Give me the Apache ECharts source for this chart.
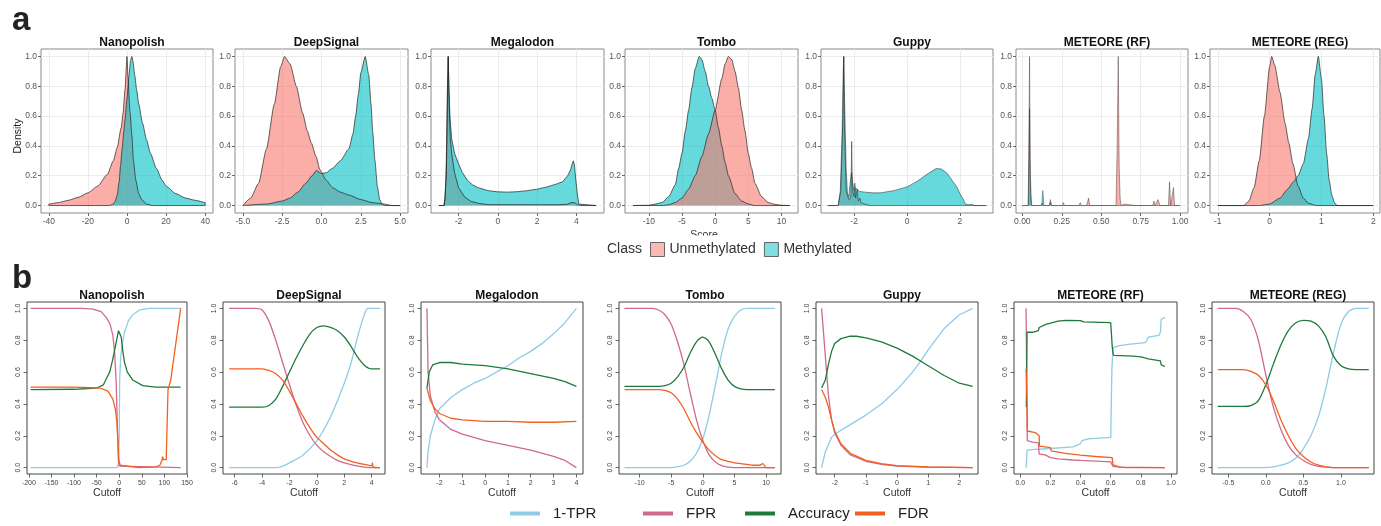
<!DOCTYPE html>
<html>
<head>
<meta charset="utf-8">
<title>Methylation callers: score densities and cutoff curves</title>
<script src="https://cdn.jsdelivr.net/npm/echarts@6/dist/echarts.min.js"></script>
<style>
  html, body { margin: 0; padding: 0; background: #fff; }
  #chart { width: 1381px; height: 526px; }
</style>
</head>
<body>
<div id="chart"></div>
<script>
// ---------- data ----------
var tools = ["Nanopolish", "DeepSignal", "Megalodon", "Tombo", "Guppy", "METEORE (RF)", "METEORE (REG)"];

// panel a: score densities scaled to a max of 1, [score, density]
var nanoUnmeth = [[-40,0],[-40,0.01],[-35,0.02],[-30,0.035],[-25,0.055],[-20,0.085],[-15,0.13],[-10,0.21],[-7,0.3],[-5,0.39],[-3,0.52],[-2,0.62],[-1,0.78],[0,1.0],[0.5,0.86],[1.5,0.63],[2.5,0.47],[3.3,0.3],[4.5,0.17],[6,0.08],[7.5,0.04],[10,0.01],[13,0],[40,0]];
var nanoMeth = [[-40,0],[-9,0],[-7,0.01],[-6,0.03],[-5,0.07],[-4,0.16],[-3.3,0.27],[-2.5,0.38],[-1.7,0.49],[-1,0.58],[0,0.72],[1,0.87],[1.8,0.97],[2.5,1.0],[3,0.97],[4,0.87],[5,0.77],[6,0.68],[8,0.55],[10,0.44],[12,0.35],[15,0.25],[18,0.17],[20,0.13],[25,0.08],[30,0.05],[35,0.035],[40,0.02],[40,0]];
var deepUnmeth = [[-5,0],[-4.5,0.05],[-4,0.15],[-3.5,0.38],[-3,0.68],[-2.6,0.93],[-2.35,1.0],[-2,0.95],[-1.6,0.8],[-1.2,0.62],[-0.9,0.5],[-0.65,0.42],[-0.35,0.33],[-0.1,0.24],[0.3,0.17],[0.7,0.12],[1.2,0.09],[1.75,0.07],[2.5,0.04],[3.2,0.02],[4,0.01],[4.5,0],[5,0]];
var deepMeth = [[-5,0],[-3.5,0.01],[-2.5,0.03],[-2,0.05],[-1.5,0.09],[-1,0.15],[-0.6,0.2],[-0.33,0.235],[0,0.215],[0.3,0.22],[0.7,0.25],[1.2,0.3],[1.74,0.38],[2,0.48],[2.17,0.6],[2.35,0.75],[2.5,0.89],[2.78,1.0],[3,0.88],[3.15,0.68],[3.26,0.49],[3.4,0.3],[3.55,0.13],[3.7,0.04],[3.85,0.01],[4,0],[5,0]];
var megaUnmeth = [[-3,0],[-2.72,0],[-2.62,0.2],[-2.55,0.8],[-2.52,1.0],[-2.48,0.7],[-2.42,0.45],[-2.35,0.35],[-2.2,0.22],[-2,0.12],[-1.7,0.06],[-1.4,0.03],[-1,0.015],[-0.5,0.006],[3,0.005],[3.5,0.008],[3.75,0.02],[3.9,0.02],[4.05,0.005],[4.2,0],[5,0]];
var megaMeth = [[-3,0],[-2.75,0],[-2.68,0.05],[-2.62,0.3],[-2.57,0.75],[-2.53,1.0],[-2.49,0.8],[-2.43,0.58],[-2.35,0.45],[-2.2,0.35],[-2,0.28],[-1.8,0.22],[-1.55,0.17],[-1.3,0.14],[-1,0.12],[-0.5,0.1],[0,0.092],[0.5,0.09],[1,0.093],[1.5,0.1],[2,0.11],[2.5,0.125],[3,0.145],[3.3,0.16],[3.55,0.2],[3.7,0.24],[3.78,0.28],[3.84,0.3],[3.9,0.27],[3.96,0.18],[4.05,0.07],[4.12,0.01],[4.2,0],[5,0]];
var tomboUnmeth = [[-12.4,0],[-8,0],[-7,0.005],[-6,0.02],[-5,0.05],[-4,0.11],[-3,0.2],[-2,0.33],[-1,0.48],[0,0.64],[1,0.85],[1.5,0.95],[2,1.0],[2.5,0.98],[3,0.9],[3.5,0.79],[4,0.64],[4.5,0.5],[5,0.35],[5.5,0.25],[6,0.15],[7,0.06],[8,0.02],[9,0.008],[10,0.002],[11.3,0]];
var tomboMeth = [[-12.4,0],[-10,0.002],[-9,0.01],[-8,0.02],[-7,0.06],[-6,0.14],[-5.5,0.25],[-5,0.35],[-4.5,0.5],[-4,0.64],[-3.5,0.79],[-3,0.92],[-2.4,1.0],[-2,0.98],[-1.5,0.9],[-1,0.8],[-0.5,0.72],[0,0.64],[0.5,0.52],[1,0.4],[1.5,0.29],[2,0.2],[3,0.08],[4,0.03],[5,0.01],[6,0],[11.3,0]];
var guppyUnmeth = [[-3,0],[-2.6,0],[-2.5,0.1],[-2.42,0.6],[-2.39,1.0],[-2.36,0.5],[-2.3,0.1],[-2.2,0.04],[-2.12,0.05],[-2.09,0.43],[-2.06,0.1],[-2.0,0.06],[-1.97,0.15],[-1.94,0.05],[-1.88,0.11],[-1.84,0.03],[-1.78,0.05],[-1.74,0.02],[-1.6,0.01],[-1.4,0],[3,0]];
var guppyMeth = [[-3,0],[-2.6,0],[-2.52,0.1],[-2.45,0.5],[-2.41,0.9],[-2.39,1.0],[-2.36,0.7],[-2.3,0.25],[-2.25,0.08],[-2.2,0.06],[-2.15,0.15],[-2.1,0.22],[-2.05,0.15],[-2.0,0.1],[-1.95,0.12],[-1.9,0.11],[-1.8,0.095],[-1.6,0.09],[-1.3,0.085],[-1,0.085],[-0.5,0.1],[0,0.125],[0.4,0.165],[0.8,0.215],[1.1,0.248],[1.3,0.245],[1.5,0.22],[1.7,0.17],[1.9,0.12],[2.0,0.08],[2.1,0.05],[2.15,0.035],[2.2,0.01],[2.25,0.005],[2.35,0.005],[2.45,0.008],[2.55,0],[3,0]];
var rfUnmeth = [[0,0],[0.038,0],[0.046,1.0],[0.05,0.3],[0.054,0.08],[0.06,0],[0.088,0],[0.094,0.01],[0.1,0],[0.118,0],[0.125,0.015],[0.132,0],[0.171,0],[0.178,0.04],[0.185,0],[0.253,0],[0.26,0.02],[0.267,0],[0.293,0],[0.3,0.01],[0.307,0],[0.36,0],[0.367,0.02],[0.374,0],[0.393,0],[0.4,0.01],[0.407,0],[0.413,0],[0.42,0.05],[0.427,0],[0.594,0],[0.601,0.4],[0.608,1.0],[0.614,0.25],[0.62,0.05],[0.626,0],[0.638,0],[0.645,0.01],[0.652,0],[0.718,0],[0.725,0.01],[0.732,0],[0.827,0],[0.834,0.03],[0.841,0],[0.853,0],[0.86,0.04],[0.866,0.02],[0.872,0],[0.926,0],[0.933,0.16],[0.94,0],[0.951,0],[0.958,0.12],[0.965,0],[1.0,0]];
var rfMeth = [[0,0],[0.037,0],[0.042,0.3],[0.046,0.65],[0.05,0.2],[0.057,0],[0.087,0],[0.094,0.01],[0.101,0],[0.123,0],[0.13,0.1],[0.137,0],[0.171,0],[0.178,0.02],[0.185,0],[1.0,0]];
var regUnmeth = [[-1,0],[-0.5,0],[-0.4,0.03],[-0.3,0.12],[-0.2,0.3],[-0.1,0.6],[0,0.93],[0.04,1.0],[0.1,0.94],[0.2,0.76],[0.3,0.55],[0.37,0.42],[0.45,0.28],[0.55,0.13],[0.65,0.05],[0.75,0.015],[0.9,0],[2,0]];
var regMeth = [[-1,0],[-0.2,0],[0,0.01],[0.2,0.05],[0.35,0.11],[0.45,0.155],[0.55,0.2],[0.65,0.28],[0.75,0.45],[0.82,0.65],[0.88,0.88],[0.94,1.0],[1.0,0.85],[1.05,0.6],[1.1,0.35],[1.15,0.17],[1.2,0.07],[1.25,0.02],[1.3,0],[2,0]];

// panel b: rates against the score cutoff, [cutoff, value]
var nanoTpr = [[-196,0],[-5,0],[-2,0.02],[0,0.2],[1,0.55],[3,0.68],[6,0.76],[11.7,0.85],[20,0.92],[30,0.96],[45,0.99],[66,1.0],[136,1.0]];
var nanoFpr = [[-196,1],[-80,1],[-58,0.995],[-40,0.98],[-28,0.94],[-20,0.9],[-14,0.83],[-10,0.72],[-6.6,0.53],[-4,0.25],[-2,0.06],[0,0.01],[1,0],[136,0]];
var nanoAcc = [[-196,0.49],[-100,0.492],[-50,0.5],[-35,0.52],[-21,0.6],[-15,0.67],[-10,0.74],[-5,0.81],[-1.5,0.86],[1,0.86],[4.4,0.82],[8,0.73],[11.7,0.66],[18,0.6],[30,0.55],[52,0.515],[80,0.505],[136,0.505]];
var nanoFdr = [[-196,0.505],[-100,0.505],[-43,0.5],[-25,0.48],[-14,0.43],[-8,0.36],[-5,0.28],[-2.5,0.15],[-0.7,0.05],[2,0.015],[5,0.005],[44,0],[80,0.005],[90,0.015],[95,0.05],[96,0.07],[97.5,0.05],[99,0.045],[101,0.055],[104,0.05],[106.5,0.06],[107.5,0.06],[108,0.49],[114,0.55],[136,1.0]];
var deepTpr = [[-6.4,0],[-3,0],[-2.5,0.01],[-2,0.03],[-1,0.08],[0,0.17],[1,0.32],[2,0.53],[2.5,0.66],[3,0.83],[3.5,0.97],[3.7,1.0],[4.6,1.0]];
var deepFpr = [[-6.4,1],[-4.5,1],[-4,0.99],[-3.5,0.92],[-3,0.8],[-2.5,0.66],[-2,0.52],[-1.5,0.39],[-1,0.28],[-0.5,0.2],[0,0.14],[0.5,0.1],[1,0.07],[1.5,0.045],[2,0.03],[3,0.01],[4,0],[4.6,0]];
var deepAcc = [[-6.4,0.38],[-4,0.38],[-3.5,0.39],[-3,0.43],[-2.5,0.51],[-2,0.6],[-1.5,0.69],[-1,0.77],[-0.5,0.84],[0,0.88],[0.5,0.89],[1,0.88],[1.5,0.86],[2,0.82],[2.5,0.76],[3,0.69],[3.5,0.64],[4,0.62],[4.6,0.62]];
var deepFdr = [[-6.4,0.62],[-4,0.62],[-3.5,0.61],[-3,0.59],[-2.5,0.55],[-2,0.48],[-1.5,0.4],[-1,0.32],[-0.5,0.25],[0,0.19],[0.5,0.15],[1,0.11],[1.5,0.08],[2,0.055],[2.5,0.04],[3,0.028],[3.5,0.02],[4,0.012],[4.05,0.03],[4.1,0.005],[4.6,0]];
var megaTpr = [[-2.55,0],[-2.5,0.1],[-2.4,0.2],[-2.2,0.3],[-2,0.37],[-1.5,0.44],[-1,0.49],[-0.5,0.53],[0,0.56],[0.5,0.6],[1,0.64],[1.5,0.69],[2,0.73],[2.5,0.78],[3,0.84],[3.5,0.91],[4,1.0]];
var megaFpr = [[-2.55,1.0],[-2.5,0.6],[-2.4,0.45],[-2.2,0.35],[-2,0.3],[-1.5,0.24],[-1,0.21],[0,0.17],[1,0.14],[2,0.11],[3,0.07],[3.5,0.045],[4,0]];
var megaAcc = [[-2.55,0.5],[-2.45,0.6],[-2.3,0.645],[-2,0.66],[-1.5,0.66],[-1,0.65],[0,0.64],[1,0.62],[2,0.59],[3,0.56],[3.5,0.54],[4,0.51]];
var megaFdr = [[-2.55,0.5],[-2.4,0.42],[-2.2,0.37],[-2,0.34],[-1.5,0.31],[-1,0.3],[0,0.29],[1,0.29],[2,0.285],[3,0.285],[4,0.29]];
var tomboTpr = [[-12.4,0],[-5,0],[-4,0.005],[-3,0.015],[-2,0.04],[-1,0.09],[0,0.18],[1,0.33],[2,0.52],[3,0.72],[4,0.87],[5,0.95],[6,0.99],[7,1.0],[11.4,1.0]];
var tomboFpr = [[-12.4,1],[-8,1],[-7,0.99],[-6,0.96],[-5,0.9],[-4,0.79],[-3,0.65],[-2,0.47],[-1,0.3],[0,0.17],[1,0.08],[2,0.035],[3,0.012],[4,0.003],[5,0],[11.4,0]];
var tomboAcc = [[-12.4,0.51],[-7,0.51],[-6,0.515],[-5,0.53],[-4,0.57],[-3,0.63],[-2,0.72],[-1,0.79],[0,0.82],[1,0.79],[2,0.71],[3,0.62],[4,0.55],[5,0.51],[6,0.495],[7,0.49],[11.4,0.49]];
var tomboFdr = [[-12.4,0.49],[-7,0.49],[-6,0.485],[-5,0.47],[-4,0.43],[-3,0.37],[-2,0.29],[-1,0.22],[0,0.16],[1,0.11],[2,0.075],[3,0.05],[4,0.04],[5,0.03],[6,0.025],[7,0.02],[8,0.015],[9,0.015],[9.5,0.025],[9.8,0.01],[10,0],[11.4,0]];
var guppyTpr = [[-2.42,0],[-2.3,0.1],[-2.1,0.19],[-2,0.21],[-1.5,0.27],[-1,0.33],[-0.5,0.4],[0,0.49],[0.5,0.6],[0.8,0.68],[1,0.74],[1.5,0.87],[2,0.96],[2.43,1.0]];
var guppyFpr = [[-2.42,1.0],[-2.3,0.7],[-2.2,0.45],[-2.1,0.3],[-2,0.22],[-1.8,0.14],[-1.5,0.08],[-1,0.04],[-0.5,0.02],[0,0.01],[1,0.003],[2.43,0]];
var guppyAcc = [[-2.42,0.5],[-2.38,0.49],[-2.3,0.55],[-2.2,0.65],[-2.1,0.73],[-2,0.78],[-1.8,0.81],[-1.5,0.825],[-1.3,0.825],[-1,0.815],[-0.5,0.79],[0,0.75],[0.5,0.7],[1,0.64],[1.5,0.58],[2,0.53],[2.43,0.51]];
var guppyFdr = [[-2.42,0.49],[-2.3,0.44],[-2.2,0.38],[-2.1,0.3],[-2,0.23],[-1.8,0.15],[-1.5,0.09],[-1,0.045],[-0.5,0.025],[0,0.012],[1,0.004],[2.43,0]];
var rfTpr = [[0.038,0],[0.045,0.11],[0.1,0.115],[0.2,0.12],[0.35,0.13],[0.35,0.14],[0.4,0.15],[0.41,0.17],[0.45,0.18],[0.6,0.19],[0.607,0.19],[0.608,0.62],[0.612,0.62],[0.614,0.74],[0.62,0.755],[0.65,0.765],[0.73,0.775],[0.83,0.785],[0.84,0.8],[0.85,0.82],[0.92,0.83],[0.93,0.85],[0.935,0.93],[0.95,0.94],[0.96,0.94]];
var rfFpr = [[0.038,1],[0.042,0.6],[0.046,0.17],[0.08,0.16],[0.12,0.155],[0.125,0.085],[0.165,0.08],[0.17,0.07],[0.2,0.063],[0.25,0.055],[0.35,0.048],[0.4,0.045],[0.6,0.036],[0.61,0.036],[0.615,0.008],[0.62,0.005],[0.7,0],[0.96,0]];
var rfFdr = [[0.038,0.62],[0.045,0.4],[0.047,0.23],[0.1,0.22],[0.125,0.2],[0.127,0.135],[0.2,0.125],[0.205,0.105],[0.3,0.09],[0.4,0.078],[0.5,0.07],[0.61,0.063],[0.615,0.02],[0.63,0.012],[0.66,0.003],[0.96,0]];
var rfAcc = [[0.04,0.38],[0.042,0.62],[0.045,0.85],[0.08,0.85],[0.12,0.86],[0.125,0.88],[0.13,0.89],[0.17,0.9],[0.18,0.91],[0.25,0.92],[0.3,0.925],[0.4,0.923],[0.42,0.915],[0.6,0.91],[0.608,0.91],[0.61,0.76],[0.615,0.72],[0.62,0.705],[0.75,0.7],[0.8,0.695],[0.82,0.69],[0.85,0.683],[0.9,0.675],[0.93,0.67],[0.935,0.645],[0.96,0.635]];
var regTpr = [[-0.64,0],[0,0],[0.1,0.005],[0.2,0.015],[0.3,0.03],[0.4,0.06],[0.5,0.12],[0.6,0.2],[0.7,0.32],[0.8,0.5],[0.9,0.72],[1.0,0.9],[1.1,0.98],[1.2,1.0],[1.37,1.0]];
var regFpr = [[-0.64,1],[-0.4,1],[-0.3,0.98],[-0.2,0.93],[-0.1,0.8],[0,0.58],[0.1,0.38],[0.2,0.24],[0.3,0.14],[0.4,0.08],[0.5,0.045],[0.6,0.02],[0.7,0.008],[0.8,0.003],[0.9,0],[1.37,0]];
var regAcc = [[-0.64,0.385],[-0.3,0.385],[-0.2,0.39],[-0.1,0.42],[0,0.52],[0.1,0.65],[0.2,0.77],[0.3,0.86],[0.4,0.91],[0.5,0.925],[0.6,0.92],[0.7,0.89],[0.8,0.82],[0.9,0.7],[1.0,0.64],[1.1,0.62],[1.2,0.615],[1.37,0.615]];
var regFdr = [[-0.64,0.615],[-0.3,0.615],[-0.2,0.605],[-0.1,0.58],[0,0.52],[0.1,0.42],[0.2,0.3],[0.3,0.2],[0.4,0.12],[0.5,0.07],[0.6,0.035],[0.7,0.015],[0.8,0.005],[0.9,0],[1.37,0]];

var unmethData = [nanoUnmeth, deepUnmeth, megaUnmeth, tomboUnmeth, guppyUnmeth, rfUnmeth, regUnmeth];
var methData = [nanoMeth, deepMeth, megaMeth, tomboMeth, guppyMeth, rfMeth, regMeth];
var tprData = [nanoTpr, deepTpr, megaTpr, tomboTpr, guppyTpr, rfTpr, regTpr];
var fprData = [nanoFpr, deepFpr, megaFpr, tomboFpr, guppyFpr, rfFpr, regFpr];
var accData = [nanoAcc, deepAcc, megaAcc, tomboAcc, guppyAcc, rfAcc, regAcc];
var fdrData = [nanoFdr, deepFdr, megaFdr, tomboFdr, guppyFdr, rfFdr, regFdr];

// axis ranges and tick labels
var topXRange = [[-44,44],[-5.5,5.5],[-3.4,5.4],[-13.6,12.5],[-3.25,3.25],[-0.04,1.05],[-1.15,2.13]];
var topXTicks = [[-40,-20,0,20,40],[-5,-2.5,0,2.5,5],[-2,0,2,4],[-10,-5,0,5,10],[-2,0,2],[0,0.25,0.5,0.75,1],[-1,0,1,2]];
var topXDecimals = [0,1,0,0,0,2,0];
var densityTicks = [0,0.2,0.4,0.6,0.8,1];
var botXRange = [[-204,150],[-6.85,4.97],[-2.81,4.29],[-13.26,12.37],[-2.6,2.6],[-0.042,1.04],[-0.717,1.44]];
var botXTicks = [[-200,-150,-100,-50,0,50,100,150],[-6,-4,-2,0,2,4],[-2,-1,0,1,2,3,4],[-10,-5,0,5,10],[-2,-1,0,1,2],[0,0.2,0.4,0.6,0.8,1],[-0.5,0,0.5,1]];
var botXDecimals = [0,0,0,0,0,1,1];
var rateTicks = [0,0.2,0.4,0.6,0.8,1];

// ---------- layout / style ----------
var topLeft = [41,235,431,625,821,1016,1210];
var topWidth = [172,173,173,173,172,172,170];
var botLeft = [27,223,421,619,816,1014,1212];
var botWidth = [160,162,162,162,162,163,162];
var unmethOnTop = [false,false,false,true,false,false,false];
var smoothTop = [0.2,0.2,0,0.2,0,0,0.2];
var smoothBot = [0,0.25,0,0.25,0,0,0.25];
var outlineTop = [0.7,0.7,0.7,0.7,0.5,0.4,0.7];

var PINK = "#F8766D", TEAL = "#00BFC4";
var C_TPR = "#8FCBE6", C_FPR = "#CF6A8C", C_ACC = "#1F7A3A", C_FDR = "#F2601F";

function fmt(d) {
  return function (v) { return Number(v).toFixed(d); };
}

var grids = [], xAxes = [], yAxes = [], series = [], titles = [];

for (var i = 0; i < tools.length; i++) {
  // ---- panel a (grid/axis index 2i) ----
  var a = 2 * i;
  grids.push({
    left: topLeft[i], top: 49, width: topWidth[i], height: 164,
    show: true, borderColor: "#8a8a8a", borderWidth: 1,
    containLabel: false, outerBoundsMode: "none"
  });
  xAxes.push({
    gridIndex: a, type: "value", min: topXRange[i][0], max: topXRange[i][1],
    axisLine: { show: false, onZero: false },
    axisTick: { show: true, customValues: topXTicks[i], length: 3, lineStyle: { color: "#444", width: 0.8 } },
    axisLabel: { customValues: topXTicks[i], formatter: fmt(topXDecimals[i]), fontSize: 8.5, color: "#555", margin: 4 },
    splitLine: { show: true, lineStyle: { color: "#ececec", width: 1 } }
  });
  yAxes.push({
    gridIndex: a, type: "value", min: -0.05, max: 1.05,
    axisLine: { show: false, onZero: false },
    axisTick: { show: true, customValues: densityTicks, length: 3, lineStyle: { color: "#444", width: 0.8 } },
    axisLabel: { customValues: densityTicks, formatter: fmt(1), fontSize: 8.5, color: "#555", margin: 4 },
    splitLine: { show: true, lineStyle: { color: "#ececec", width: 1 } }
  });
  titles.push({
    text: tools[i], left: topLeft[i] + topWidth[i] / 2, top: 32, textAlign: "center",
    textStyle: { fontSize: 12, fontWeight: "bold", color: "#111" }
  });

  var unmeth = {
    name: "Unmethylated", type: "line", xAxisIndex: a, yAxisIndex: a,
    data: unmethData[i], showSymbol: false, symbol: "none", silent: true,
    smooth: smoothTop[i], smoothMonotone: "x",
    itemStyle: { color: PINK },
    lineStyle: { color: "#222", width: outlineTop[i] },
    areaStyle: { color: PINK, opacity: 0.6 }
  };
  var meth = {
    name: "Methylated", type: "line", xAxisIndex: a, yAxisIndex: a,
    data: methData[i], showSymbol: false, symbol: "none", silent: true,
    smooth: smoothTop[i], smoothMonotone: "x",
    itemStyle: { color: TEAL },
    lineStyle: { color: "#222", width: outlineTop[i] },
    areaStyle: { color: TEAL, opacity: 0.6 }
  };
  if (unmethOnTop[i]) { series.push(meth, unmeth); } else { series.push(unmeth, meth); }

  // ---- panel b (grid/axis index 2i+1) ----
  var b = 2 * i + 1;
  grids.push({
    left: botLeft[i], top: 302, width: botWidth[i], height: 172,
    show: true, borderColor: "#444", borderWidth: 1,
    containLabel: false, outerBoundsMode: "none"
  });
  xAxes.push({
    gridIndex: b, type: "value", min: botXRange[i][0], max: botXRange[i][1],
    axisLine: { show: false, onZero: false },
    axisTick: { show: true, customValues: botXTicks[i], length: 3.5, lineStyle: { color: "#444", width: 0.8 } },
    axisLabel: { customValues: botXTicks[i], formatter: fmt(botXDecimals[i]), fontSize: 7, color: "#444", margin: 6 },
    splitLine: { show: false },
    name: "Cutoff", nameLocation: "middle", nameGap: 14,
    nameTextStyle: { fontSize: 10.5, color: "#333" }
  });
  yAxes.push({
    gridIndex: b, type: "value", min: -0.04, max: 1.04,
    axisLine: { show: false, onZero: false },
    axisTick: { show: true, customValues: rateTicks, length: 3.5, lineStyle: { color: "#444", width: 0.8 } },
    axisLabel: { customValues: rateTicks, formatter: fmt(1), fontSize: 7, color: "#444", margin: 5, rotate: 90 },
    splitLine: { show: false }
  });
  titles.push({
    text: tools[i], left: botLeft[i] + botWidth[i] / 2, top: 285, textAlign: "center",
    textStyle: { fontSize: 12, fontWeight: "bold", color: "#111" }
  });

  var rates = [["1-TPR", tprData[i], C_TPR], ["FPR", fprData[i], C_FPR], ["Accuracy", accData[i], C_ACC], ["FDR", fdrData[i], C_FDR]];
  rates.forEach(function (r) {
    series.push({
      name: r[0], type: "line", xAxisIndex: b, yAxisIndex: b,
      data: r[1], showSymbol: false, symbol: "none", silent: true,
      smooth: smoothBot[i],
      itemStyle: { color: r[2] },
      lineStyle: { color: r[2], width: 1.3 }
    });
  });
}

function rateLegend(name, color, left) {
  return {
    data: [{ name: name, itemStyle: { color: color } }],
    left: left, top: 506, icon: "rect", itemWidth: 30, itemHeight: 4,
    selectedMode: false, padding: 0,
    textStyle: { fontSize: 15, color: "#222", padding: [0, 0, 0, 8] }
  };
}

var option = {
  animation: false,
  backgroundColor: "#fff",
  textStyle: { fontFamily: "Liberation Sans, Arial, Helvetica, sans-serif" },
  title: titles,
  grid: grids,
  xAxis: xAxes,
  yAxis: yAxes,
  legend: [
    {
      data: [
        { name: "Unmethylated", itemStyle: { color: "rgba(248,118,109,0.5)", borderColor: "#666", borderWidth: 1 } },
        { name: "Methylated", itemStyle: { color: "rgba(0,191,196,0.5)", borderColor: "#666", borderWidth: 1 } }
      ],
      left: 650, top: 242, icon: "rect", itemWidth: 14, itemHeight: 14, itemGap: 8,
      selectedMode: false, padding: 0,
      textStyle: { fontSize: 14, color: "#333" }
    },
    rateLegend("1-TPR", C_TPR, 510),
    rateLegend("FPR", C_FPR, 643),
    rateLegend("Accuracy", C_ACC, 745),
    rateLegend("FDR", C_FDR, 855)
  ],
  graphic: [
    { type: "text", left: 12, top: 4, style: { text: "a", fontSize: 33, fontWeight: "bold", fill: "#222" } },
    { type: "text", left: 12, top: 262, style: { text: "b", fontSize: 33, fontWeight: "bold", fill: "#222" } },
    { type: "text", x: 18, y: 136, rotation: Math.PI / 2, style: { text: "Density", fontSize: 10.5, fill: "#222", align: "center", verticalAlign: "middle" } },
    { type: "text", x: 704, y: 230, style: { text: "Score", fontSize: 10.5, fill: "#333", align: "center", verticalAlign: "top" } },
    { type: "rect", shape: { x: 685, y: 235.5, width: 40, height: 6 }, style: { fill: "#fff" }, z: 100 },
    { type: "text", x: 607, y: 249, style: { text: "Class", fontSize: 14, fill: "#333", verticalAlign: "middle" } }
  ],
  series: series
};

var chart = echarts.init(document.getElementById("chart"));
chart.setOption(option);
window.addEventListener("resize", function () { chart.resize(); });
</script>
</body>
</html>
